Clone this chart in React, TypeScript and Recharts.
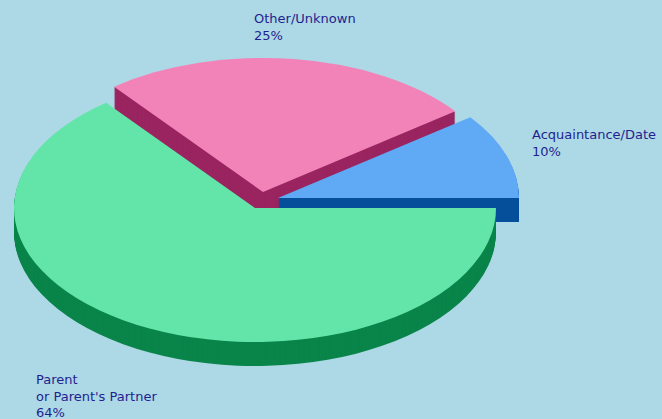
import React from "react";
import { Cell, Pie, PieChart } from "recharts";

// Victim–offender relationship shares, drawn as an exploded 3D pie.
const CATEGORIES = ["Acquaintance/Date", "Other/Unknown", "Parent\nor Parent's Partner"];
const SHARES = [10.3, 25.3, 64.4];
const TOP_COLORS = ["#60a9f5", "#f283b8", "#63e5aa"];
const SIDE_COLORS = ["#054e9a", "#9a2560", "#0a854a"];

const W = 662;
const H = 419;
const CX = 255;
const CY = 208;
const RX = 241;
const RY = 134;
const DEPTH = 24;
const TILT = RY / RX;
// explode offset per slice (screen px), back slices first
const EXPLODE = [
  [23, -10],
  [8, -16],
  [0, 0],
];
const DRAW_ORDER = [1, 0, 2];
const LABEL_AT = [
  [532, 139],
  [254, 23],
  [36, 384],
];

const data = CATEGORIES.map((name, i) => ({ name, value: SHARES[i] }));

// the class lands on nested groups, so only squash the outermost one
const css = `
body { margin: 0; }
.pie3d { transform: scale(1, ${TILT}); transform-origin: 0px 0px; transform-box: view-box; }
.pie3d .pie3d { transform: none; }
`;

function renderLabel(props: any) {
  const { index, name, percent } = props;
  const [x, y] = LABEL_AT[index];
  const lines = [...String(name).split("\n"), `${Math.round(percent * 100)}%`];
  return (
    <text
      key={`lbl-${index}`}
      x={x}
      y={y}
      fill="#1f1f8f"
      fontSize={13}
      fontFamily="DejaVu Sans, sans-serif"
      textAnchor="start"
    >
      {lines.map((l, k) => (
        <tspan key={k} x={x} y={y + k * 16.5}>
          {l}
        </tspan>
      ))}
    </text>
  );
}

function slicePies(i: number) {
  const [ex, ey] = EXPLODE[i];
  const layers = [];
  for (let d = DEPTH; d >= 0; d--) {
    const fill = d === 0 ? TOP_COLORS[i] : SIDE_COLORS[i];
    layers.push(
      <Pie
        key={`s${i}-${d}`}
        className="pie3d"
        data={data}
        dataKey="value"
        cx={CX + ex}
        cy={(CY + ey + d) / TILT}
        outerRadius={RX}
        innerRadius={0}
        startAngle={0}
        endAngle={360}
        stroke="none"
        isAnimationActive={false}
      >
        {data.map((_, j) => (
          <Cell key={j} fill={j === i ? fill : "none"} stroke="none" />
        ))}
      </Pie>
    );
  }
  return layers;
}

export default function App() {
  return (
    <div style={{ width: W, height: H, background: "#add8e6" }}>
      <style>{css}</style>
      <PieChart width={W} height={H} margin={{ top: 0, right: 0, bottom: 0, left: 0 }}>
        {DRAW_ORDER.flatMap((i) => slicePies(i))}
        <Pie
          data={data}
          dataKey="value"
          cx={CX}
          cy={CY}
          outerRadius={RX}
          startAngle={0}
          endAngle={360}
          fill="none"
          stroke="none"
          label={renderLabel}
          labelLine={false}
          isAnimationActive={false}
        >
          {data.map((_, j) => (
            <Cell key={j} fill="none" stroke="none" />
          ))}
        </Pie>
      </PieChart>
    </div>
  );
}
